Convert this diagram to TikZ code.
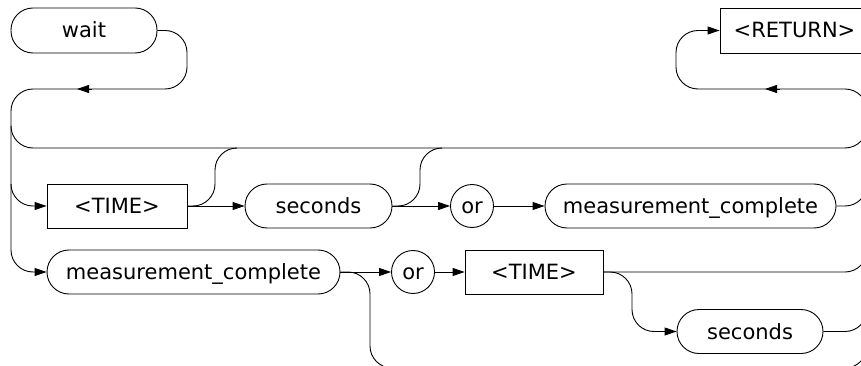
\documentclass[tikz,border=0pt]{standalone}
\usepackage{fontspec}
\setmainfont{DejaVu Sans}
\usetikzlibrary{arrows.meta}
\begin{document}
\begin{tikzpicture}[x=1pt,y=-1pt,line width=0.9pt,
  every node/.style={font=\fontsize{21}{25}\selectfont,text height=15pt,text depth=0pt,inner sep=0pt,line width=0.9pt},
  term/.style={draw,rounded corners=22pt,minimum height=44pt},
  nterm/.style={draw,minimum height=44pt},
  orc/.style={draw,circle,minimum size=43pt},
  arr/.style={-{Triangle[length=12pt,width=8pt]}},
  rc/.style={rounded corners=22pt}]
\useasboundingbox (0,0) rectangle (861,366);
\clip (0,0) rectangle (861,366);
% nodes
\node[term,minimum width=146pt,minimum height=45pt] (wait) at (84,30.5) {wait};
\node[nterm,minimum width=149pt,minimum height=45pt] (ret) at (794.5,30.5) {<RETURN>};
\node[nterm,minimum width=140pt] (time1) at (117,206) {<TIME>};
\node[term,minimum width=147pt] (sec1) at (318.5,206) {seconds};
\node[orc] (or1) at (472,206) {or};
\node[term,minimum width=291pt] (mc1) at (690.5,206) {measurement\_complete};
\node[term,minimum width=293pt] (mc2) at (193.5,272) {measurement\_complete};
\node[orc] (or2) at (413,272) {or};
\node[nterm,minimum width=138pt] (time2) at (534,272) {<TIME>};
\node[term,minimum width=146pt] (sec2) at (750,331.5) {seconds};
% coordinates
\coordinate (c1) at (187,30.5);
\coordinate (c2) at (187,89);
\coordinate (c3) at (11,89);
\coordinate (c4) at (11,272);
\coordinate (l0) at (11,126);
\coordinate (l1) at (11,148);
\coordinate (r1) at (867,148);
\coordinate (r2) at (867,89);
\coordinate (r3) at (676,89);
\coordinate (r4) at (676,30.5);
\coordinate (b0) at (11,184);
\coordinate (t1a) at (215,206);
\coordinate (t1b) at (215,148);
\coordinate (t1c) at (237,148);
\coordinate (s1a) at (420,206);
\coordinate (s1b) at (420,148);
\coordinate (s1c) at (442,148);
\coordinate (m1a) at (867,206);
\coordinate (m1b) at (867,184);
\coordinate (t2a) at (867,272);
\coordinate (t2b) at (867,250);
\coordinate (s2a) at (867,331.5);
\coordinate (s2b) at (867,309.5);
\coordinate (m2a) at (370,272);
\coordinate (m2b) at (370,368);
\coordinate (m2c) at (867,368);
\coordinate (m2d) at (867,346);
\coordinate (t2d) at (632,272);
\coordinate (t2e) at (632,331.5);
\coordinate (a1s) at (92,89);
\coordinate (a1e) at (77,89);
\coordinate (a2s) at (780,89);
\coordinate (a2e) at (765,89);
% connectors
\draw[rc,arr] (wait.east) -- (c1) -- (c2) -- (c3) -- (c4) -- (mc2.west);
\draw[arr] (a1s) -- (a1e);
\draw[rc,arr] (l0) -- (l1) -- (r1) -- (r2) -- (r3) -- (r4) -- (ret.west);
\draw[arr] (a2s) -- (a2e);
\draw (m2c) -- (r2);
\draw[rc,arr] (b0) |- (time1.west);
\draw[rc] (time1.east) -- (t1a) -- (t1b) -- (t1c);
\draw[arr] (time1.east) -- (sec1.west);
\draw[rc] (sec1.east) -- (s1a) -- (s1b) -- (s1c);
\draw[arr] (sec1.east) -- (or1.west);
\draw[arr] (or1.east) -- (mc1.west);
\draw[rc] (mc1.east) -- (m1a) -- (m1b);
\draw[arr] (mc2.east) -- (or2.west);
\draw[rc] (mc2.east) -- (m2a) -- (m2b) -- (m2c) -- (m2d);
\draw[arr] (or2.east) -- (time2.west);
\draw[rc] (time2.east) -- (t2a) -- (t2b);
\draw[rc,arr] (time2.east) -- (t2d) -- (t2e) -- (sec2.west);
\draw[rc] (sec2.east) -- (s2a) -- (s2b);
\end{tikzpicture}
\end{document}
